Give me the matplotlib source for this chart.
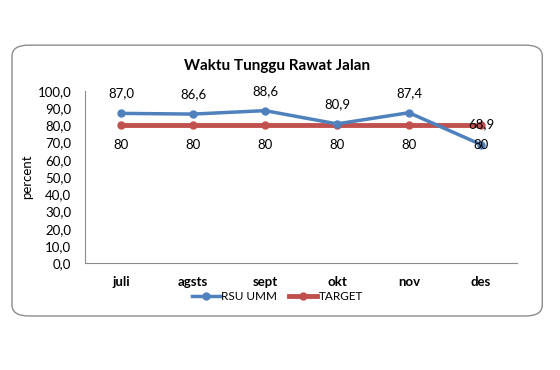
import matplotlib.pyplot as plt
from matplotlib.patches import FancyBboxPatch
from matplotlib.ticker import FuncFormatter

bulan = ["juli", "agsts", "sept", "okt", "nov", "des"]
rsu_umm = [87.0, 86.6, 88.6, 80.9, 87.4, 68.9]
target = [80, 80, 80, 80, 80, 80]

plt.rcParams['font.family'] = ['Lato', 'DejaVu Sans']
biru = "#4F81BD"
merah = "#C0504D"

fig = plt.figure(figsize=(5.6, 3.7), dpi=100)
box = FancyBboxPatch((0.0214, 0.146), 0.947, 0.732,
                     boxstyle="round,pad=0,rounding_size=0.03",
                     transform=fig.transFigure, fill=False,
                     edgecolor="#8c8c8c", linewidth=1.0)
fig.patches.append(box)

ax = fig.add_axes([0.152, 0.289, 0.771, 0.465])
x = list(range(len(bulan)))
ax.plot(x, rsu_umm, color=biru, lw=2.5, marker="o", ms=5, label="RSU UMM", zorder=3)
ax.plot(x, target, color=merah, lw=3.5, marker="o", ms=5, label="TARGET", zorder=2)

for i, v in enumerate(rsu_umm):
    ax.annotate(f"{v:.1f}".replace(".", ","), (i, v), xytext=(0, 10),
                textcoords="offset points", ha="center", va="bottom", fontsize=9.5)
for i, v in enumerate(target):
    ax.annotate(str(v), (i, v), xytext=(0, -10), textcoords="offset points",
                ha="center", va="top", fontsize=9.5)

ax.set_xlim(-0.5, len(bulan) - 0.5)
ax.set_ylim(0, 100)
ax.set_yticks(range(0, 101, 10))
ax.yaxis.set_major_formatter(FuncFormatter(lambda v, p: f"{v:.1f}".replace(".", ",")))
ax.set_xticks(x)
ax.set_xticklabels(bulan, fontweight="bold", fontsize=9.5)
ax.tick_params(axis="y", length=0, labelsize=9.5, pad=10)
ax.tick_params(axis="x", length=0, pad=9)
for s in ["top", "right"]:
    ax.spines[s].set_visible(False)
ax.spines["left"].set_color("#8c8c8c")
ax.spines["bottom"].set_color("#8c8c8c")
ax.set_ylabel("percent", fontsize=9.5, labelpad=3)

fig.text(0.495, 0.822, "Waktu Tunggu Rawat Jalan", ha="center", va="center",
         fontsize=11, fontweight="bold")

fig.legend(loc="center", bbox_to_anchor=(0.495, 0.198), ncol=2, frameon=False,
           fontsize=8.5, handlelength=2.4, columnspacing=1.0, handletextpad=0.1,
           borderpad=0.1)

fig.savefig("out.png", dpi=100)
